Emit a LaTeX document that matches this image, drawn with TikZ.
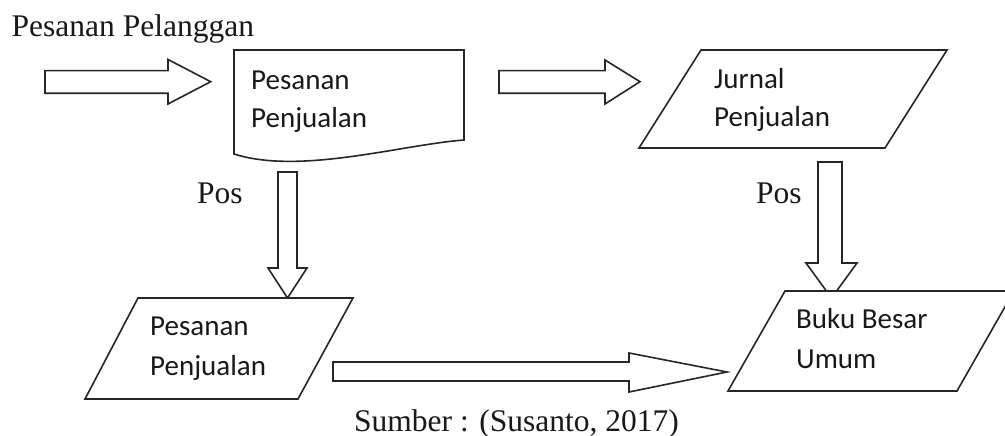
\documentclass[tikz,border=0pt]{standalone}
\usepackage{fontspec}
\setmainfont{Liberation Serif}
\newfontfamily\calib{Carlito}
\begin{document}
\begin{tikzpicture}[x=1pt,y=-1pt,
  shp/.style={draw=black!85,line width=1.6pt,line join=miter,fill=white},
  serif/.style={anchor=base west,inner sep=0pt,font=\fontsize{31.5}{36}\selectfont,text=black!90},
  sans/.style={anchor=base west,inner sep=0pt,font=\calib\fontsize{29}{35}\selectfont,text=black!90}]
\useasboundingbox (0,0) rectangle (1005,436);
\clip (0,0) rectangle (1005,436);
\fill[white] (0,0) rectangle (1005,436);
% block arrows
\draw[shp] (45,70.7)--(168,70.7)--(168,59.5)--(210.7,81.7)--(168,104)--(168,93.3)--(45,93.3)--cycle;
\draw[shp] (499,70.7)--(605,70.7)--(605,60)--(640,81.7)--(605,104)--(605,93.3)--(499,93.3)--cycle;
\draw[shp] (278,172)--(297,172)--(297,268)--(307,268)--(287.5,298)--(268,268)--(278,268)--cycle;
\draw[shp] (818,162)--(842,162)--(842,263)--(857,263)--(831.5,298)--(806,263)--(818,263)--cycle;
\draw[shp] (333,362)--(629,362)--(629,353)--(727,372)--(629,392)--(629,381)--(333,381)--cycle;
% document
\draw[shp] (234,50)--(464,50)--(464,140) .. controls (400,145) and (300,175) .. (234,154)--cycle;
% parallelograms
\draw[shp] (701,50)--(947,50)--(885,148)--(639,148)--cycle;
\draw[shp] (138,298)--(353,298)--(298,399)--(85,399)--cycle;
\draw[shp] (785,291)--(1014,291)--(957,391)--(728,391)--cycle;
% texts
\node[serif] (pp) at (11.5,36.5) {Pesanan Pelanggan};
\node[sans] (d1) at (251,89) {Pesanan};
\node[sans] (d2) at (251,128) {Penjualan};
\node[sans] (j1) at (714,88.5) {Jurnal};
\node[sans] (j2) at (714,127) {Penjualan};
\node[sans] (p1) at (150,335) {Pesanan};
\node[sans] (p2) at (150,375) {Penjualan};
\node[sans] (b1) at (796,328) {Buku Besar};
\node[sans] (b2) at (796,368) {Umum};
\node[serif] (pos1) at (197,203) {Pos};
\node[serif] (pos2) at (756,203) {Pos};
\node[serif] (src) at (354,431) {Sumber : (Susanto, 2017)};
\end{tikzpicture}
\end{document}
